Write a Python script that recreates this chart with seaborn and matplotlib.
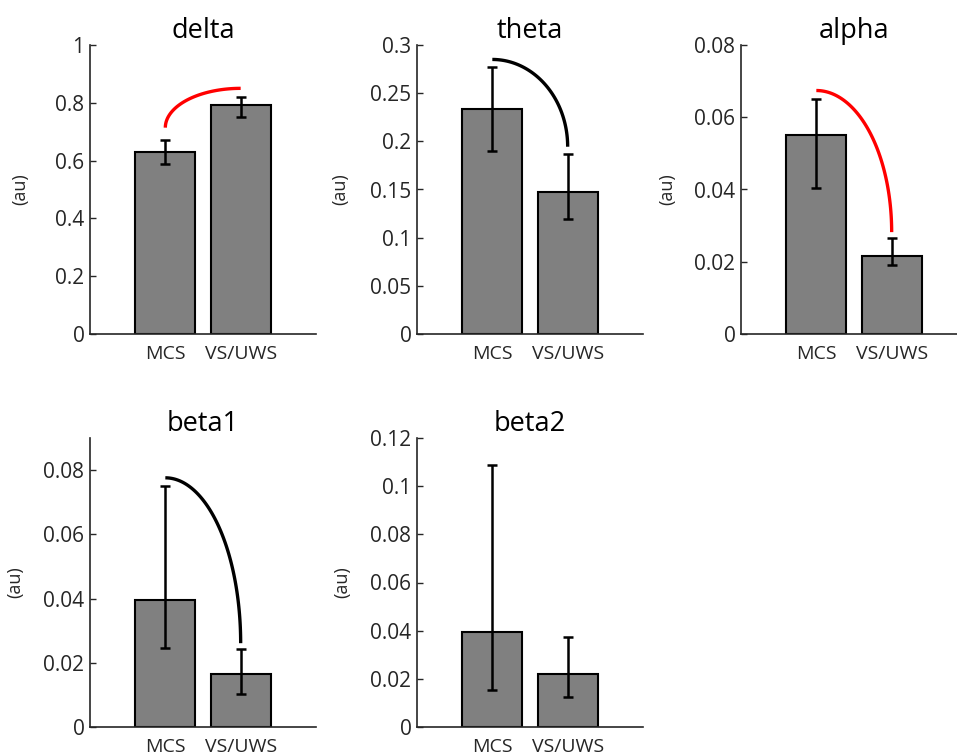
import numpy as np
import pandas as pd
import matplotlib
matplotlib.use("Agg")
import matplotlib.pyplot as plt
import seaborn as sns

sns.set_theme(style="white")
plt.rcParams["font.family"] = ["Open Sans", "DejaVu Sans"]

# --- data ---
groups = ["MCS", "VS/UWS"]
bands = ["delta", "theta", "alpha", "beta1", "beta2"]

means = {
    "delta": [0.631, 0.792],
    "theta": [0.234, 0.147],
    "alpha": [0.055, 0.0217],
    "beta1": [0.0396, 0.0164],
    "beta2": [0.0393, 0.022],
}
err_low = {
    "delta": [0.588, 0.752],
    "theta": [0.190, 0.119],
    "alpha": [0.0405, 0.019],
    "beta1": [0.0247, 0.0104],
    "beta2": [0.0152, 0.0126],
}
err_high = {
    "delta": [0.671, 0.821],
    "theta": [0.2775, 0.1865],
    "alpha": [0.0651, 0.0265],
    "beta1": [0.0752, 0.0243],
    "beta2": [0.1088, 0.0375],
}
y_max = {"delta": 1.0, "theta": 0.3, "alpha": 0.08, "beta1": 0.09, "beta2": 0.12}
y_step = {"delta": 0.2, "theta": 0.05, "alpha": 0.02, "beta1": 0.02, "beta2": 0.02}

# significance arcs: (y at MCS end, y at VS/UWS end, colour)
arcs = {
    "delta": (0.714, 0.850, "red"),
    "theta": (0.285, 0.1944, "black"),
    "alpha": (0.0674, 0.0282, "red"),
    "beta1": (0.0776, 0.0261, "black"),
}

# axes placement (pixels in a 957x756 canvas): left, top
W, H = 957, 756
ax_w, ax_h = 226, 289
slots = {
    "delta": (90, 45),
    "theta": (417, 45),
    "alpha": (741, 45),
    "beta1": (90, 438),
    "beta2": (417, 438),
}
label_off = {"delta": 61, "theta": 68, "alpha": 65, "beta1": 66, "beta2": 66}

fig = plt.figure(figsize=(W / 100, H / 100), dpi=100)
dark = "#262626"

for band in bands:
    left, top = slots[band]
    ax = fig.add_axes([left / W, (H - top - ax_h) / H, ax_w / W, ax_h / H])

    df = pd.DataFrame({"group": groups, "value": means[band]})
    sns.barplot(data=df, x="group", y="value", color="#808080", saturation=1,
                edgecolor="black", linewidth=1.5, width=0.8, errorbar=None, ax=ax)

    m = np.array(means[band])
    lo = m - np.array(err_low[band])
    hi = np.array(err_high[band]) - m
    ax.errorbar([0, 1], m, yerr=[lo, hi], fmt="none", ecolor="black",
                elinewidth=1.8, capsize=3.5, capthick=1.8, zorder=5)

    if band in arcs:
        y0, y1, c = arcs[band]
        t = np.linspace(0, np.pi / 2, 100)
        if y1 > y0:
            xs = 1 - np.cos(t)
            ys = y0 + (y1 - y0) * np.sin(t)
        else:
            xs = np.sin(t)
            ys = y1 + (y0 - y1) * np.cos(t)
        ax.plot(xs, ys, color=c, lw=2.4, solid_capstyle="butt", zorder=6)

    ax.set_xlim(-1, 2)
    ax.set_ylim(0, y_max[band])
    ax.set_yticks(np.arange(0, y_max[band] + 1e-9, y_step[band]))
    ax.yaxis.set_major_formatter(plt.FormatStrFormatter("%g"))
    ax.tick_params(axis="y", direction="in", length=4, width=1, color=dark,
                   labelsize=15, labelcolor=dark, pad=4, left=True)
    ax.tick_params(axis="x", length=0, labelsize=14, labelcolor=dark, pad=8)

    for s in ["top", "right"]:
        ax.spines[s].set_visible(False)
    for s in ["left", "bottom"]:
        ax.spines[s].set_color(dark)
        ax.spines[s].set_linewidth(1.2)

    ax.set_xlabel("")
    ax.set_ylabel("(au)", fontsize=13, color=dark)
    ax.yaxis.set_label_coords(-label_off[band] / ax_w, 0.5)
    ax.set_title(band, fontsize=19.5, color="black", pad=5)

fig.savefig("out.png", dpi=100)
